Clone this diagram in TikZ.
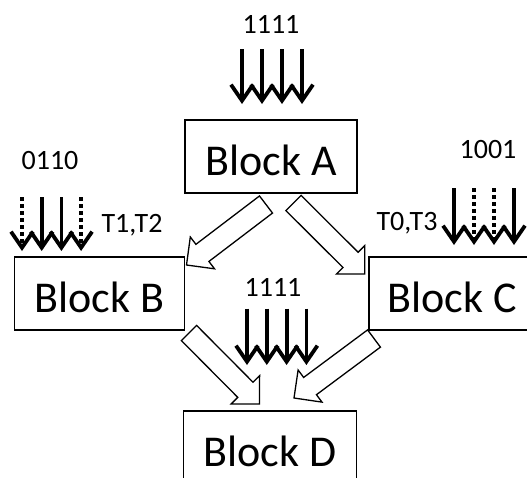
\documentclass[tikz,border=0pt]{standalone}
\usepackage{fontspec}
\setmainfont{Carlito}
\usetikzlibrary{arrows.meta,calc}

% hollow block arrow from tail (#1) to tip (#2)
\newcommand{\fatarrow}[2]{%
  \coordinate (fa-h) at ($(#2)!20pt!(#1)$);
  \draw[fatarr] ($(#1)!10.75pt!90:(#2)$) -- ($(fa-h)!10.75pt!90:(#2)$)
    -- ($(fa-h)!20pt!90:(#2)$) -- (#2) -- ($(fa-h)!20pt!-90:(#2)$)
    -- ($(fa-h)!10.75pt!-90:(#2)$) -- ($(#1)!10.75pt!-90:(#2)$) -- cycle;}

\begin{document}
\begin{tikzpicture}[x=1pt, y=-1pt,
    every node/.style={font=\fontsize{28}{30}\selectfont},
    block/.style={draw, line width=1.3pt, minimum height=73pt, inner sep=0pt,
      text height=37pt, text depth=0pt, font=\fontsize{44}{48}\selectfont},
    bit1/.style={line width=3.8pt, -{Straight Barb[length=16pt,width=22pt]}},
    bit0/.style={bit1, dash pattern=on 3.5pt off 3.5pt},
    fatarr/.style={line width=1.3pt, fill=white, line join=miter}
]
\useasboundingbox (0,0) rectangle (527,477);

% blocks
\node[block, minimum width=172pt] (blkA) at (271,156.5) {Block A};
\node[block, minimum width=170pt] (blkB) at (99.25,293.5) {Block B};
\node[block, minimum width=166pt] (blkC) at (452,293.5) {Block C};
\node[block, minimum width=173pt] (blkD) at (270,447.5) {Block D};

% thread masks
\node (maskA) at (271,24) {1111};
\node (maskB) at (50,161) {0110};
\node (maskC) at (488,150) {1001};
\node (maskD) at (273,287) {1111};
\node (thrB) at (132,225) {T1,T2};
\node (thrC) at (407,223) {T0,T3};

\coordinate (inA) at (242,49);
\coordinate (inB) at (22,197);
\coordinate (inC) at (454,188);
\coordinate (inD) at (247,308.5);
\foreach \b [count=\i] in {1,1,1,1}
  \draw[bit\b] ($(inA)+(20*\i-20,0)$) -- ++(0,55);
\foreach \b [count=\i] in {0,1,1,0}
  \draw[bit\b] ($(inB)+(19.7*\i-19.7,0)$) -- ++(0,54);
\foreach \b [count=\i] in {1,0,0,1}
  \draw[bit\b] ($(inC)+(20*\i-20,0)$) -- ++(0,57);
\foreach \b [count=\i] in {1,1,1,1}
  \draw[bit\b] ($(inD)+(19.8*\i-19.8,0)$) -- ++(0,56.5);

% control flow
\coordinate (ab0) at (266,204.5);   \coordinate (ab1) at (186.5,265);
\coordinate (ac0) at (293.5,203);   \coordinate (ac1) at (364.7,274);
\coordinate (bd0) at (189,333);     \coordinate (bd1) at (259.5,404);
\coordinate (cd0) at (374,338.5);   \coordinate (cd1) at (294,398);
\fatarrow{ab0}{ab1}
\fatarrow{ac0}{ac1}
\fatarrow{bd0}{bd1}
\fatarrow{cd0}{cd1}
\end{tikzpicture}
\end{document}
